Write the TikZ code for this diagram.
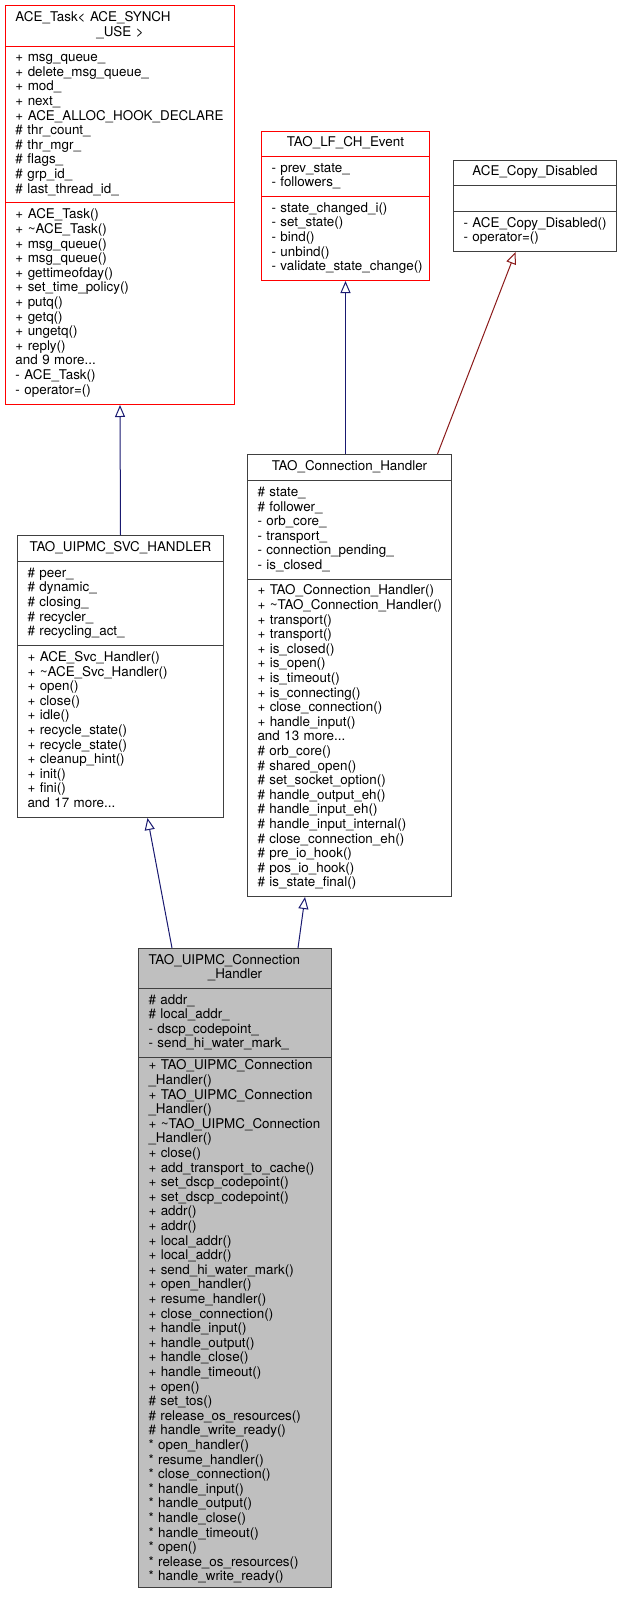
\documentclass[tikz,border=0pt]{standalone}
\usepackage{fontspec}
\setmainfont{TeX Gyre Heros}
\usetikzlibrary{positioning,arrows.meta}
\definecolor{edgeblue}{HTML}{191970}
\definecolor{edgebrown}{HTML}{8B1A1A}
\definecolor{boxgray}{HTML}{BFBFBF}
\definecolor{boxline}{HTML}{404040}
\tikzset{
  umlpart/.style={draw=boxline, line width=1pt, inner xsep=10pt, inner ysep=0pt,
    text width=#1, align=left, font=\fontsize{13.4pt}{14.6pt}\selectfont,
    execute at begin node={\exhyphenpenalty=10000\strut}, execute at end node=\strut},
  umltitle/.style={umlpart=#1, align=center},
  trunc/.style={draw=red},
  focus/.style={fill=boxgray},
  inherit/.style={line width=1pt, -{Triangle[open, length=12pt, width=10pt]}},
}

\begin{document}
\begin{tikzpicture}[x=1pt, y=-1pt]
 \useasboundingbox (0,0) rectangle (621,1603);
 \node [umltitle=209pt, trunc, minimum height=41pt, anchor=north west] (task) at (5,5)
  {\makebox[\linewidth][l]{ACE\_Task\textless{} ACE\_SYNCH}\\\_USE \textgreater};
 \node [umlpart=209pt, trunc, minimum height=156pt, below=-1pt of task] (task_attr)
  {+~msg\_queue\_\\+~delete\_msg\_queue\_\\+~mod\_\\+~next\_\\+~ACE\_ALLOC\_HOOK\_DECLARE\\\#~thr\_count\_\\\#~thr\_mgr\_\\\#~flags\_\\\#~grp\_id\_\\\#~last\_thread\_id\_};
 \node [umlpart=209pt, trunc, minimum height=202pt, below=-1pt of task_attr] (task_op)
  {+~ACE\_Task()\\+~\textasciitilde ACE\_Task()\\+~msg\_queue()\\+~msg\_queue()\\+~gettimeofday()\\+~set\_time\_policy()\\+~putq()\\+~getq()\\+~ungetq()\\+~reply()\\and 9 more...\\-~ACE\_Task()\\-~operator=()};

 \node [umltitle=148pt, trunc, minimum height=25pt, anchor=north west] (event) at (261,131) {TAO\_LF\_CH\_Event};
 \node [umlpart=148pt, trunc, minimum height=40pt, below=-1pt of event] (event_attr)
  {-~prev\_state\_\\-~followers\_};
 \node [umlpart=148pt, trunc, minimum height=84pt, below=-1pt of event_attr] (event_op)
  {-~state\_changed\_i()\\-~set\_state()\\-~bind()\\-~unbind()\\-~validate\_state\_change()};

 \node [umltitle=143pt, minimum height=25pt, anchor=north west] (copy) at (453,160) {ACE\_Copy\_Disabled};
 \node [umlpart=143pt, minimum height=26pt, below=-1pt of copy] (copy_attr) {};
 \node [umlpart=143pt, minimum height=40pt, below=-1pt of copy_attr] (copy_op)
  {-~ACE\_Copy\_Disabled()\\-~operator=()};

 \node [umltitle=186pt, minimum height=26pt, anchor=north west] (svc) at (17,535) {TAO\_UIPMC\_SVC\_HANDLER};
 \node [umlpart=186pt, minimum height=84pt, below=-1pt of svc] (svc_attr)
  {\#~peer\_\\\#~dynamic\_\\\#~closing\_\\\#~recycler\_\\\#~recycling\_act\_};
 \node [umlpart=186pt, minimum height=172pt, below=-1pt of svc_attr] (svc_op)
  {+~ACE\_Svc\_Handler()\\+~\textasciitilde ACE\_Svc\_Handler()\\+~open()\\+~close()\\+~idle()\\+~recycle\_state()\\+~recycle\_state()\\+~cleanup\_hint()\\+~init()\\+~fini()\\and 17 more...};

 \node [umltitle=184pt, minimum height=26pt, anchor=north west] (conn) at (247,454) {TAO\_Connection\_Handler};
 \node [umlpart=184pt, minimum height=99pt, below=-1pt of conn] (conn_attr)
  {\#~state\_\\\#~follower\_\\-~orb\_core\_\\-~transport\_\\-~connection\_pending\_\\-~is\_closed\_};
 \node [umlpart=184pt, minimum height=317pt, below=-1pt of conn_attr] (conn_op)
  {+~TAO\_Connection\_Handler()\\+~\textasciitilde TAO\_Connection\_Handler()\\+~transport()\\+~transport()\\+~is\_closed()\\+~is\_open()\\+~is\_timeout()\\+~is\_connecting()\\+~close\_connection()\\+~handle\_input()\\and 13 more...\\\#~orb\_core()\\\#~shared\_open()\\\#~set\_socket\_option()\\\#~handle\_output\_eh()\\\#~handle\_input\_eh()\\\#~handle\_input\_internal()\\\#~close\_connection\_eh()\\\#~pre\_io\_hook()\\\#~pos\_io\_hook()\\\#~is\_state\_final()};

 \node [umltitle=173pt, focus, minimum height=40pt, anchor=north west] (uipmc) at (138,948)
  {\makebox[\linewidth][l]{TAO\_UIPMC\_Connection}\\\_Handler};
 \node [umlpart=173pt, focus, minimum height=69pt, below=-1pt of uipmc] (uipmc_attr)
  {\#~addr\_\\\#~local\_addr\_\\-~dscp\_codepoint\_\\-~send\_hi\_water\_mark\_};
 \node [umlpart=173pt, focus, minimum height=530pt, below=-1pt of uipmc_attr] (uipmc_op)
  {+~TAO\_UIPMC\_Connection\\\_Handler()\\+~TAO\_UIPMC\_Connection\\\_Handler()\\+~\textasciitilde TAO\_UIPMC\_Connection\\\_Handler()\\+~close()\\+~add\_transport\_to\_cache()\\+~set\_dscp\_codepoint()\\+~set\_dscp\_codepoint()\\+~addr()\\+~addr()\\+~local\_addr()\\+~local\_addr()\\+~send\_hi\_water\_mark()\\+~open\_handler()\\+~resume\_handler()\\+~close\_connection()\\+~handle\_input()\\+~handle\_output()\\+~handle\_close()\\+~handle\_timeout()\\+~open()\\\#~set\_tos()\\\#~release\_os\_resources()\\\#~handle\_write\_ready()\\{}*~open\_handler()\\{}*~resume\_handler()\\{}*~close\_connection()\\{}*~handle\_input()\\{}*~handle\_output()\\{}*~handle\_close()\\{}*~handle\_timeout()\\{}*~open()\\{}*~release\_os\_resources()\\{}*~handle\_write\_ready()};

 \draw [inherit, edgeblue] (svc.north) -- (task_op.south);
 \draw [inherit, edgeblue] (event_op.south |- conn.north) -- (event_op.south);
 \draw [inherit, edgebrown] ([xshift=-14.5pt]conn.north east) -- ([xshift=-19.5pt]copy_op.south);
 \draw [inherit, edgeblue] ([xshift=34pt]uipmc.north west) -- ([xshift=27pt]svc_op.south);
 \draw [inherit, edgeblue] ([xshift=-34pt]uipmc.north east) -- ([xshift=58pt]conn_op.south west);
\end{tikzpicture}
\end{document}
